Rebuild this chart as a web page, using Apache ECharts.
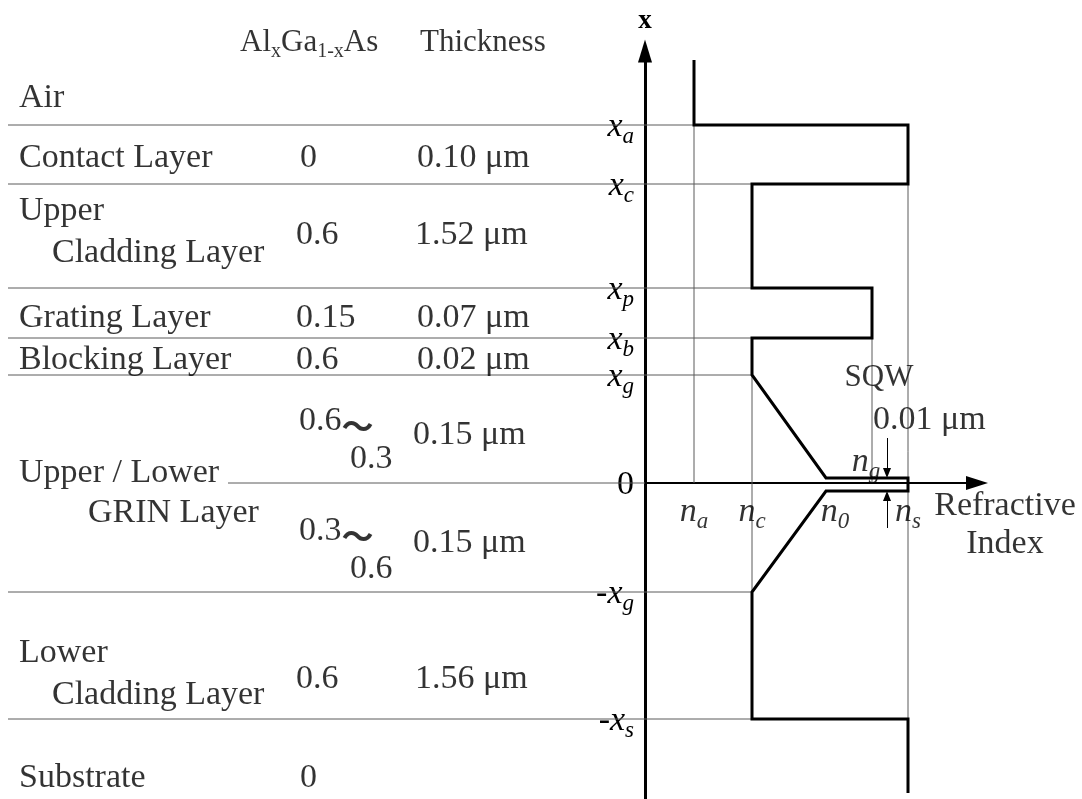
<!DOCTYPE html>
<html>
<head>
<meta charset="utf-8">
<script src="https://cdn.jsdelivr.net/npm/echarts@6/dist/echarts.min.js"></script>
<style>
  html, body { margin: 0; padding: 0; background: #fff; }
  #main { width: 1082px; height: 799px; }
</style>
</head>
<body>
<div id="main"></div>
<script>
// ---- Profile data (drawing units; position 0 = centre of the SQW) ----
// Layer boundaries along the growth direction
const boundaryNames = ['x_a', 'x_c', 'x_p', 'x_b', 'x_g', '0', '-x_g', '-x_s'];
const boundaryValues = [35.8, 29.9, 19.5, 14.5, 10.8, 0, -10.9, -23.6];

// Refractive-index levels
const indexNames = ['n_a', 'n_c', 'n_0', 'n_g', 'n_s'];
const indexValues = [4.9, 10.7, 18.1, 22.7, 26.3];

// Single quantum well edges (drawn exaggerated) and the two open ends of the profile
const wellEdges = [0.5, -0.8];
const profileEnds = [42.3, -31.0];

// ---- Layer stack table ----
const columnTitles = ['Al_xGa_1-xAs', 'Thickness'];
const layerNames = ['Air', 'Contact Layer', 'Upper', 'Cladding Layer', 'Grating Layer',
  'Blocking Layer', 'Upper / Lower', 'GRIN Layer', 'Lower', 'Cladding Layer', 'Substrate'];
const compositions = ['0', '0.6', '0.15', '0.6', '0.6〜', '0.3', '0.3〜', '0.6', '0.6', '0'];
const thicknesses = ['0.10 μm', '1.52 μm', '0.07 μm', '0.02 μm', '0.15 μm', '0.15 μm', '1.56 μm'];
const wellNotes = ['SQW', '0.01 μm'];
const indexAxisTitle = 'Refractive\nIndex';
const positionAxisTitle = 'x';

// ---- Layout of the text (drawing units) ----
const titleLayout = [[-40.5, 44.0], [-22.5, 44.0]];
const nameLayout = [[-62.6, 38.5], [-62.6, 32.5], [-62.6, 27.2], [-59.3, 23.0], [-62.6, 16.5],
  [-62.6, 12.3], [-62.6, 1.0], [-55.7, -3.0], [-62.6, -17.0], [-59.3, -21.2], [-62.6, -29.5]];
const compLayout = [[-34.5, 32.5], [-34.9, 24.8], [-34.9, 16.5], [-34.9, 12.3], [-34.6, 6.2],
  [-29.5, 2.4], [-34.6, -4.8], [-29.5, -8.6], [-34.9, -19.6], [-34.5, -29.5]];
const thickLayout = [[-22.8, 32.5], [-23.0, 24.8], [-22.8, 16.5], [-22.8, 12.3], [-23.2, 4.8],
  [-23.2, -6.0], [-23.0, -19.6]];
const indexLabelRow = -2.9;
const ruleStart = -63.7;
const zeroRuleStart = -41.7;
const arrowX = 24.2;
const arrowReach = 4.5;
const arrowGap = 0.5;

const SERIF = '"Liberation Serif", "Times New Roman", serif';
const rich = {
  t: { fontFamily: SERIF, fontSize: 34, color: '#000' },
  i: { fontFamily: SERIF, fontSize: 34, fontStyle: 'italic', color: '#000' },
  s: { fontFamily: SERIF, fontSize: 22, color: '#000', padding: [20, 0, 0, 0] },
  si: { fontFamily: SERIF, fontSize: 23, fontStyle: 'italic', color: '#000', padding: [20, 0, 0, 0] },
  io: { fontFamily: SERIF, fontSize: 34, fontStyle: 'italic', color: '#000', padding: [0, 0, 0, 18] },
  h: { fontFamily: SERIF, fontSize: 31, color: '#000' },
  hs: { fontFamily: SERIF, fontSize: 20, color: '#000', padding: [18, 0, 0, 0] },
  q: { fontFamily: SERIF, fontSize: 31, color: '#000' },
  w: { fontFamily: '"Noto Sans CJK JP", sans-serif', fontSize: 32, fontWeight: 'bold', color: '#000', padding: [10, 0, 0, 0] }
};

// "x_a" -> italic x with subscript a; "Al_xGa_1-xAs" -> upright with subscripts
function toRich(str, italic, main0, sub0) {
  if (/^[0-9.]+$/.test(str)) return '{t|' + str + '}';
  const main = main0 || (italic ? 'i' : 't');
  const sub = sub0 || (italic ? 'si' : 's');
  const parts = [];
  let buf = '';
  let inSub = false;
  const flush = () => {
    if (buf) parts.push('{' + (inSub ? sub : main) + '|' + buf + '}');
    buf = '';
  };
  for (const ch of str) {
    if (ch === '_') { flush(); inSub = true; continue; }
    if (inSub && /[A-Z]/.test(ch)) { flush(); inSub = false; }
    if (ch === '-' && !inSub && italic) { flush(); parts.push('{t|-}'); continue; }
    buf += ch;
  }
  flush();
  return parts.join('');
}
function compRich(str) {
  return str.replace(/^([0-9.]+)(〜?)$/, (m, num, tilde) => '{t|' + num + '}' + (tilde ? '{w|〜}' : ''));
}

const [na, nc, n0, ng, ns] = indexValues;
const [xa, xc, xp, xb, xg, , mxg, mxs] = boundaryValues;
const [wTop, wBot] = wellEdges;
const [pTop, pBottom] = profileEnds;

// Step profile of the refractive index through the structure
const profile = [
  [na, pTop], [na, xa], [ns, xa], [ns, xc], [nc, xc], [nc, xp], [ng, xp], [ng, xb],
  [nc, xb], [nc, xg], [n0, wTop], [ns, wTop], [ns, wBot], [n0, wBot], [nc, mxg],
  [nc, mxs], [ns, mxs], [ns, pBottom]
];

// Thin guide lines: index drop lines and the layer rules of the table
const guides = [
  [[na, xa], [na, 0]],
  [[nc, xg], [nc, mxg]],
  [[ng, xb], [ng, 0]],
  [[ns, xc], [ns, mxs]],
  [[zeroRuleStart, 0], [0, 0]]
];
boundaryValues.forEach((b, k) => {
  if (b === 0) return;
  guides.push([[ruleStart, b], [k === 0 ? na : nc, b]]);
});

// Small arrows marking the SQW thickness
const wellArrows = [
  [[arrowX, arrowReach], [arrowX, wTop + arrowGap]],
  [[arrowX, -arrowReach], [arrowX, wBot - arrowGap]]
];

// Text items placed in drawing coordinates
const texts = [];
columnTitles.forEach((t, k) => texts.push({ value: titleLayout[k], text: toRich(t, false, 'h', 'hs'), align: 'left' }));
layerNames.forEach((t, k) => texts.push({ value: nameLayout[k], text: '{t|' + t + '}', align: 'left' }));
compositions.forEach((t, k) => texts.push({ value: compLayout[k], text: compRich(t), align: 'left' }));
thicknesses.forEach((t, k) => texts.push({ value: thickLayout[k], text: '{t|' + t + '}', align: 'left' }));
indexNames.forEach((name, k) => {
  if (name === 'n_g') return;
  const text = name === 'n_0' ? '{io|n}{si|0}' : toRich(name, true);
  texts.push({ value: [indexValues[k], indexLabelRow], text, align: 'center' });
});
texts.push({ value: [23.4, 10.5], text: '{q|' + wellNotes[0] + '}', align: 'center' });
texts.push({ value: [22.8, 6.3], text: '{t|' + wellNotes[1] + '}', align: 'left' });
texts.push({ value: [22.1, 2.1], text: toRich('n_g', true), align: 'center' });
texts.push({ value: [36.0, -4.2], text: indexAxisTitle.split('\n').map(s => '{t|' + s + '}').join('\n'), align: 'center' });

const chart = echarts.init(document.getElementById('main'));
chart.setOption({
  animation: false,
  backgroundColor: '#fff',
  grid: { left: 645, right: 105, top: 51, bottom: 0, containLabel: false, outerBoundsMode: 'none' },
  xAxis: {
    type: 'value',
    min: 0,
    max: 33.2,
    axisLine: {
      show: true, onZero: true,
      symbol: ['none', 'triangle'], symbolSize: [14, 22],
      lineStyle: { color: '#000', width: 2 }
    },
    axisTick: { show: false },
    splitLine: { show: false },
    axisLabel: { show: false }
  },
  yAxis: {
    type: 'value',
    min: -31.6,
    max: 43.2,
    name: positionAxisTitle,
    nameLocation: 'end',
    nameGap: 16,
    nameTextStyle: { fontFamily: SERIF, fontSize: 27, fontWeight: 'bold', color: '#000', align: 'center' },
    axisLine: {
      show: true, onZero: false,
      symbol: ['none', 'triangle'], symbolSize: [14, 23],
      lineStyle: { color: '#000', width: 3 }
    },
    axisTick: { show: false },
    splitLine: { show: false },
    axisLabel: {
      show: true,
      customValues: boundaryValues,
      margin: 11,
      padding: [4, 0, 0, 0],
      rich: rich,
      formatter: (v) => {
        const k = boundaryValues.findIndex(x => Math.abs(x - v) < 1e-9);
        return toRich(boundaryNames[k], true);
      }
    }
  },
  series: [
    {
      name: 'guides',
      type: 'custom',
      silent: true,
      clip: false,
      encode: { x: [0, 2], y: [1, 3] },
      data: guides.map(([a, b]) => [a[0], a[1], b[0], b[1]]),
      renderItem: (params, api) => {
        const p1 = api.coord([api.value(0), api.value(1)]);
        const p2 = api.coord([api.value(2), api.value(3)]);
        return {
          type: 'line',
          shape: { x1: p1[0], y1: p1[1], x2: p2[0], y2: p2[1] },
          style: { stroke: '#5a5a5a', lineWidth: 1 }
        };
      }
    },
    {
      name: 'SQW arrows',
      type: 'line',
      data: [],
      silent: true,
      markLine: {
        silent: true,
        symbol: ['none', 'triangle'],
        symbolSize: [8, 10],
        label: { show: false },
        lineStyle: { color: '#000', width: 1, type: 'solid' },
        emphasis: { disabled: true },
        data: wellArrows.map(([a, b]) => [{ coord: a }, { coord: b }])
      }
    },
    {
      name: 'index profile',
      type: 'line',
      data: profile,
      showSymbol: false,
      silent: true,
      clip: false,
      lineStyle: { color: '#000', width: 3, join: 'miter' }
    },
    {
      name: 'text',
      type: 'scatter',
      silent: true,
      clip: false,
      symbolSize: 1,
      itemStyle: { color: 'rgba(0,0,0,0)' },
      label: { show: true, position: 'inside', verticalAlign: 'middle', rich: rich, lineHeight: 38 },
      data: texts.map(d => ({
        value: d.value,
        label: { formatter: d.text, align: d.align }
      }))
    }
  ]
});
</script>
</body>
</html>
